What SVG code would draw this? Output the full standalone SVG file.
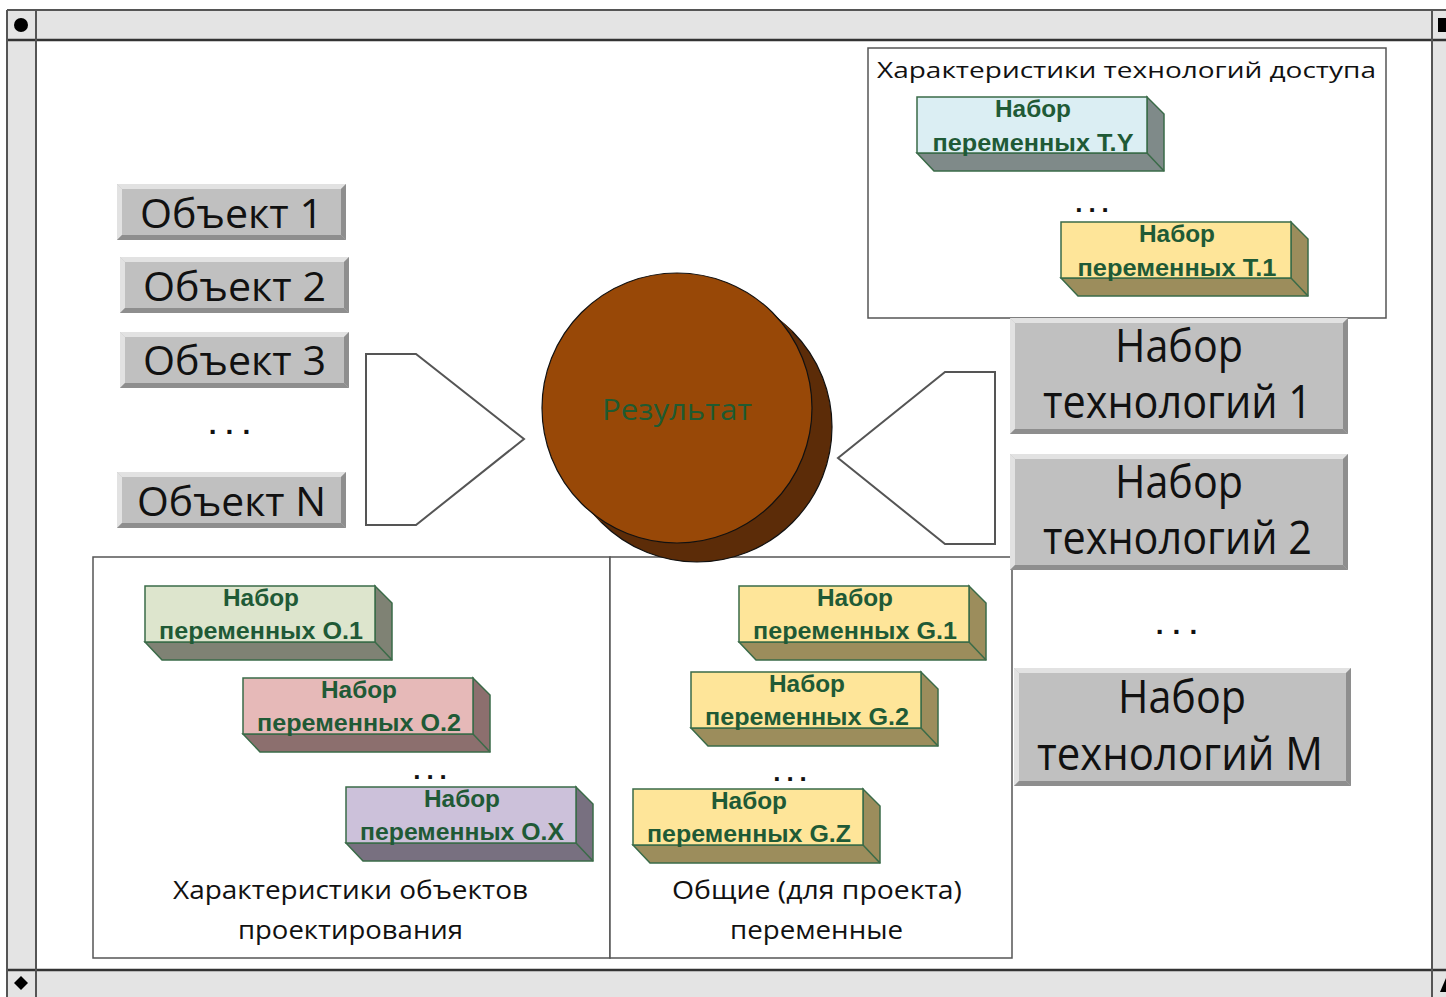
<svg xmlns="http://www.w3.org/2000/svg" width="1446" height="997" viewBox="0 0 1446 997">
<style>
.frame{fill:#e4e4e4}
.fl{stroke:#555;stroke-width:2;fill:none}
.fld{stroke:#333;stroke-width:2.5;fill:none}
.panel{fill:#fff;stroke:#555;stroke-width:1.5}
.t{font-family:"Open Sans","DejaVu Sans",sans-serif;fill:#111}
.big{font-size:41px}
.tech{font-size:45px}
.cap{font-size:26px}
.bx{font-family:"Liberation Sans","DejaVu Sans",sans-serif;font-weight:bold;font-size:23px;fill:#1f5a36;text-anchor:middle}
.fr{stroke:#3a6b48;stroke-width:1.5}
.sd{stroke:#3a6b48;stroke-width:1.5}
.face{fill:#c0c0c0}
.hl{fill:#e2e2e2}
.sh{fill:#8e8e8e}
.arr{fill:#fff;stroke:#555;stroke-width:2}
.dots{font-family:"Liberation Sans",sans-serif;font-weight:bold;fill:#111;text-anchor:middle}
</style>
<rect width="1446" height="997" fill="#fff"/>
<g id="frame">
<rect class="frame" x="7" y="10" width="1439" height="30"/>
<rect class="frame" x="7" y="40" width="29" height="930"/>
<rect class="frame" x="1432" y="40" width="14" height="930"/>
<rect class="frame" x="7" y="970" width="1439" height="27"/>
<line class="fl" x1="7" y1="10" x2="1446" y2="10"/>
<line class="fld" x1="7" y1="40" x2="1446" y2="40"/>
<line class="fld" x1="7" y1="970" x2="1446" y2="970"/>
<line class="fl" x1="7" y1="10" x2="7" y2="997"/>
<line class="fl" x1="36" y1="10" x2="36" y2="997"/>
<line class="fl" x1="1432" y1="10" x2="1432" y2="997"/>
<circle cx="21" cy="25" r="7" fill="#000"/>
<polygon points="21,976 28,983 21,990 14,983" fill="#000"/>
<rect x="1438" y="18" width="8" height="14" fill="#000"/>
<polygon points="1446,978 1446,992 1440,992" fill="#000"/>
</g>
<g id="panel-tech-access">
<rect class="panel" x="868" y="48" width="518" height="270"/>
<text class="t" x="877" y="78" font-size="21" textLength="499" lengthAdjust="spacingAndGlyphs">Характеристики технологий доступа</text>
</g>
<g id="panel-objects">
<rect class="panel" x="93" y="557" width="517" height="401"/>
<text class="t cap" x="173" y="899" textLength="355" lengthAdjust="spacingAndGlyphs">Характеристики объектов</text>
<text class="t cap" x="238" y="939" textLength="225" lengthAdjust="spacingAndGlyphs">проектирования</text>
</g>
<g id="panel-common">
<rect class="panel" x="610" y="557" width="402" height="401"/>
<text class="t cap" x="672" y="899" textLength="290" lengthAdjust="spacingAndGlyphs">Общие (для проекта)</text>
<text class="t cap" x="730" y="939" textLength="173" lengthAdjust="spacingAndGlyphs">переменные</text>
</g>
<g id="set-TY" transform="translate(917,97)">
<polygon class="sd" fill="#7f8a89" points="0,56 230,56 230,0 247,17 247,74 17,74"/>
<line class="sd" x1="230" y1="56" x2="247" y2="74"/>
<rect class="fr" fill="#dbeef3" x="0" y="0" width="230" height="56"/>
<text class="bx" x="116" y="20" textLength="76" lengthAdjust="spacingAndGlyphs">Набор</text>
<text class="bx" x="116" y="54" textLength="201" lengthAdjust="spacingAndGlyphs">переменных T.Y</text>
</g>
<g id="set-T1" transform="translate(1061,222)">
<polygon class="sd" fill="#9c8d5c" points="0,56 230,56 230,0 247,17 247,74 17,74"/>
<line class="sd" x1="230" y1="56" x2="247" y2="74"/>
<rect class="fr" fill="#fee599" x="0" y="0" width="230" height="56"/>
<text class="bx" x="116" y="20" textLength="76" lengthAdjust="spacingAndGlyphs">Набор</text>
<text class="bx" x="116" y="54" textLength="199" lengthAdjust="spacingAndGlyphs">переменных T.1</text>
</g>
<g id="set-O1" transform="translate(145,586)">
<polygon class="sd" fill="#7f8274" points="0,56 230,56 230,0 247,17 247,74 17,74"/>
<line class="sd" x1="230" y1="56" x2="247" y2="74"/>
<rect class="fr" fill="#dde5cd" x="0" y="0" width="230" height="56"/>
<text class="bx" x="116" y="20" textLength="76" lengthAdjust="spacingAndGlyphs">Набор</text>
<text class="bx" x="116" y="53" textLength="204" lengthAdjust="spacingAndGlyphs">переменных O.1</text>
</g>
<g id="set-O2" transform="translate(243,678)">
<polygon class="sd" fill="#8c6f6e" points="0,56 230,56 230,0 247,17 247,74 17,74"/>
<line class="sd" x1="230" y1="56" x2="247" y2="74"/>
<rect class="fr" fill="#e6b9b8" x="0" y="0" width="230" height="56"/>
<text class="bx" x="116" y="20" textLength="76" lengthAdjust="spacingAndGlyphs">Набор</text>
<text class="bx" x="116" y="53" textLength="204" lengthAdjust="spacingAndGlyphs">переменных O.2</text>
</g>
<g id="set-OX" transform="translate(346,787)">
<polygon class="sd" fill="#787080" points="0,56 230,56 230,0 247,17 247,74 17,74"/>
<line class="sd" x1="230" y1="56" x2="247" y2="74"/>
<rect class="fr" fill="#ccc1da" x="0" y="0" width="230" height="56"/>
<text class="bx" x="116" y="20" textLength="76" lengthAdjust="spacingAndGlyphs">Набор</text>
<text class="bx" x="116" y="53" textLength="204" lengthAdjust="spacingAndGlyphs">переменных O.X</text>
</g>
<g id="set-G1" transform="translate(739,586)">
<polygon class="sd" fill="#9c8d5c" points="0,56 230,56 230,0 247,17 247,74 17,74"/>
<line class="sd" x1="230" y1="56" x2="247" y2="74"/>
<rect class="fr" fill="#fee599" x="0" y="0" width="230" height="56"/>
<text class="bx" x="116" y="20" textLength="76" lengthAdjust="spacingAndGlyphs">Набор</text>
<text class="bx" x="116" y="53" textLength="204" lengthAdjust="spacingAndGlyphs">переменных G.1</text>
</g>
<g id="set-G2" transform="translate(691,672)">
<polygon class="sd" fill="#9c8d5c" points="0,56 230,56 230,0 247,17 247,74 17,74"/>
<line class="sd" x1="230" y1="56" x2="247" y2="74"/>
<rect class="fr" fill="#fee599" x="0" y="0" width="230" height="56"/>
<text class="bx" x="116" y="20" textLength="76" lengthAdjust="spacingAndGlyphs">Набор</text>
<text class="bx" x="116" y="53" textLength="204" lengthAdjust="spacingAndGlyphs">переменных G.2</text>
</g>
<g id="set-GZ" transform="translate(633,789)">
<polygon class="sd" fill="#9c8d5c" points="0,56 230,56 230,0 247,17 247,74 17,74"/>
<line class="sd" x1="230" y1="56" x2="247" y2="74"/>
<rect class="fr" fill="#fee599" x="0" y="0" width="230" height="56"/>
<text class="bx" x="116" y="20" textLength="76" lengthAdjust="spacingAndGlyphs">Набор</text>
<text class="bx" x="116" y="53" textLength="204" lengthAdjust="spacingAndGlyphs">переменных G.Z</text>
</g>
<g id="dots">
<text class="dots" x="1095" y="212" font-size="26" letter-spacing="6">...</text>
<text class="dots" x="433" y="779" font-size="26" letter-spacing="6">...</text>
<text class="dots" x="793" y="781" font-size="26" letter-spacing="6">...</text>
<text class="dots" x="234" y="434" font-size="28" letter-spacing="9">...</text>
<text class="dots" x="1181" y="634" font-size="28" letter-spacing="9">...</text>
</g>
<g id="obj1" transform="translate(117,184)">
<rect class="face" width="229" height="56"/>
<polygon class="hl" points="0,0 229,0 224,5 5,5"/><polygon class="hl" points="0,0 5,5 5,51 0,56"/>
<polygon class="sh" points="229,0 229,56 224,51 224,5"/><polygon class="sh" points="0,56 229,56 224,51 5,51"/>
<text class="t big" x="23" y="44" textLength="183" lengthAdjust="spacingAndGlyphs">Объект 1</text>
</g>
<g id="obj2" transform="translate(120,257)">
<rect class="face" width="229" height="56"/>
<polygon class="hl" points="0,0 229,0 224,5 5,5"/><polygon class="hl" points="0,0 5,5 5,51 0,56"/>
<polygon class="sh" points="229,0 229,56 224,51 224,5"/><polygon class="sh" points="0,56 229,56 224,51 5,51"/>
<text class="t big" x="23" y="44" textLength="183" lengthAdjust="spacingAndGlyphs">Объект 2</text>
</g>
<g id="obj3" transform="translate(120,332)">
<rect class="face" width="229" height="56"/>
<polygon class="hl" points="0,0 229,0 224,5 5,5"/><polygon class="hl" points="0,0 5,5 5,51 0,56"/>
<polygon class="sh" points="229,0 229,56 224,51 224,5"/><polygon class="sh" points="0,56 229,56 224,51 5,51"/>
<text class="t big" x="23" y="43" textLength="183" lengthAdjust="spacingAndGlyphs">Объект 3</text>
</g>
<g id="objN" transform="translate(117,472)">
<rect class="face" width="229" height="56"/>
<polygon class="hl" points="0,0 229,0 224,5 5,5"/><polygon class="hl" points="0,0 5,5 5,51 0,56"/>
<polygon class="sh" points="229,0 229,56 224,51 224,5"/><polygon class="sh" points="0,56 229,56 224,51 5,51"/>
<text class="t big" x="20" y="44" textLength="189" lengthAdjust="spacingAndGlyphs">Объект N</text>
</g>
<g id="tech1" transform="translate(1010,318)">
<rect class="face" width="338" height="116"/>
<polygon class="hl" points="0,0 338,0 333,5 5,5"/><polygon class="hl" points="0,0 5,5 5,111 0,116"/>
<polygon class="sh" points="338,0 338,116 333,111 333,5"/><polygon class="sh" points="0,116 338,116 333,111 5,111"/>
<text class="t tech" x="105" y="44" textLength="128" lengthAdjust="spacingAndGlyphs">Набор</text>
<text class="t tech" x="33" y="100" textLength="269" lengthAdjust="spacingAndGlyphs">технологий 1</text>
</g>
<g id="tech2" transform="translate(1010,454)">
<rect class="face" width="338" height="116"/>
<polygon class="hl" points="0,0 338,0 333,5 5,5"/><polygon class="hl" points="0,0 5,5 5,111 0,116"/>
<polygon class="sh" points="338,0 338,116 333,111 333,5"/><polygon class="sh" points="0,116 338,116 333,111 5,111"/>
<text class="t tech" x="105" y="44" textLength="128" lengthAdjust="spacingAndGlyphs">Набор</text>
<text class="t tech" x="33" y="100" textLength="269" lengthAdjust="spacingAndGlyphs">технологий 2</text>
</g>
<g id="techM" transform="translate(1014,668)">
<rect class="face" width="337" height="118"/>
<polygon class="hl" points="0,0 337,0 332,5 5,5"/><polygon class="hl" points="0,0 5,5 5,113 0,118"/>
<polygon class="sh" points="337,0 337,118 332,113 332,5"/><polygon class="sh" points="0,118 337,118 332,113 5,113"/>
<text class="t tech" x="104" y="45" textLength="128" lengthAdjust="spacingAndGlyphs">Набор</text>
<text class="t tech" x="23" y="102" textLength="286" lengthAdjust="spacingAndGlyphs">технологий M</text>
</g>
<g id="connectors">
<polygon class="arr" points="366,354 416,354 524,439 416,525 366,525"/>
<polygon class="arr" points="995,372 945,372 838,458 945,544 995,544"/>
</g>
<g id="result">
<circle cx="697" cy="427" r="135" fill="#5c2c08" stroke="#111" stroke-width="1.2"/>
<polygon points="772.5,312.5 792.5,331.5 601.5,522.5 581.5,503.5" fill="#5c2c08"/>
<circle cx="677" cy="408" r="135" fill="#984807" stroke="#111" stroke-width="1.2"/>
<text x="677" y="420" font-family="Open Sans,DejaVu Sans,sans-serif" font-size="30" fill="#1f5a30" text-anchor="middle" textLength="150" lengthAdjust="spacingAndGlyphs">Результат</text>
</g>
</svg>
